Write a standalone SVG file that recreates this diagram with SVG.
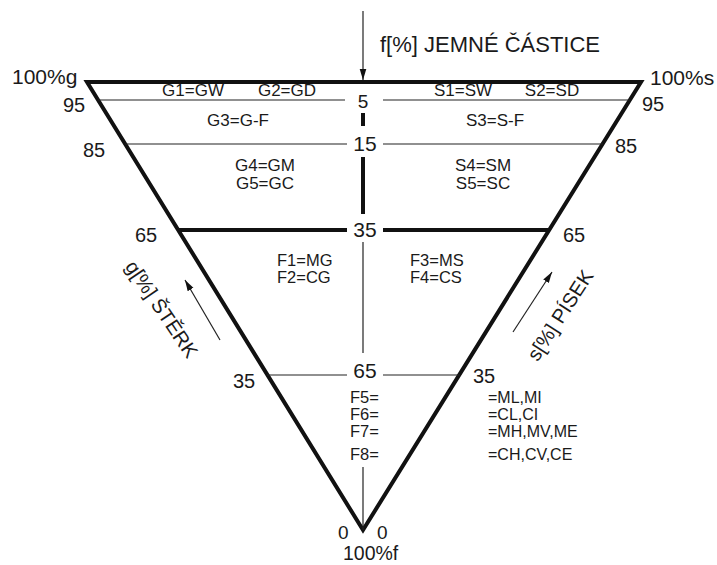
<svg xmlns="http://www.w3.org/2000/svg" width="717" height="565" viewBox="0 0 717 565">
<style>
text{font-family:"Liberation Sans",Arial,sans-serif;fill:#1a1a1a}
.thick{stroke:#111;stroke-width:4;fill:none;stroke-linejoin:miter}
.thin{stroke:#222;stroke-width:1.2;fill:none}
.c{text-anchor:middle}
.n{font-size:20px}
.big{font-size:21px}
.g{font-size:17px}
.f{font-size:16.5px}
.r{font-size:16px}
</style>
<defs>
<marker id="ah2" viewBox="0 0 10 10" refX="10" refY="5" markerWidth="11" markerHeight="11" markerUnits="userSpaceOnUse" orient="auto">
<path d="M0,2 L10,5 L0,8 Z" fill="#111"/>
</marker>
</defs>
<rect width="717" height="565" fill="#fff"/>
<g id="connectors">
<path class="thick" d="M87,82 L641,82 L363,530 Z"/>
<line class="thin" x1="98" y1="100" x2="345" y2="100"/>
<line class="thin" x1="383" y1="100" x2="630" y2="100"/>
<line class="thin" x1="125" y1="144" x2="347" y2="144"/>
<line class="thin" x1="383" y1="144" x2="603" y2="144"/>
<line class="thick" x1="178" y1="230" x2="347" y2="230"/>
<line class="thick" x1="383" y1="230" x2="550" y2="230"/>
<line class="thin" x1="267" y1="375" x2="347" y2="375"/>
<line class="thin" x1="383" y1="375" x2="460" y2="375"/>
<line class="thick" x1="363" y1="113" x2="363" y2="126" stroke-width="3.5"/>
<line class="thick" x1="363" y1="157" x2="363" y2="214"/>
<line class="thin" x1="363" y1="242" x2="363" y2="353"/>
<line class="thin" x1="363" y1="467" x2="363" y2="530"/>
<line class="thin" x1="363" y1="11" x2="363" y2="80" marker-end="url(#ah2)"/>
<line class="thin" x1="220" y1="340" x2="185" y2="280" marker-end="url(#ah2)"/>
<line class="thin" x1="513" y1="332" x2="552" y2="272" marker-end="url(#ah2)"/>
</g>
<g id="axis-labels">
<text x="380" y="52" font-size="22">f[%] JEMNÉ ČÁSTICE</text>
<text x="12" y="84" class="big">100%g</text>
<text x="650" y="85" class="big">100%s</text>
<text x="343" y="560" font-size="19.5">100%f</text>
<text x="338" y="539" font-size="19">0</text>
<text x="377" y="539" font-size="19">0</text>
<text transform="translate(156,313) rotate(56)" class="c n">g[%] ŠTĚRK</text>
<text transform="translate(566,319) rotate(-57)" class="c n">s[%] PÍSEK</text>
</g>
<g id="scale-labels">
<text x="63" y="112" class="n">95</text>
<text x="83" y="157" class="n">85</text>
<text x="135" y="242" class="n">65</text>
<text x="233" y="388" class="n">35</text>
<text x="642" y="111" class="n">95</text>
<text x="615" y="153" class="n">85</text>
<text x="563" y="242" class="n">65</text>
<text x="473" y="383" class="n">35</text>
<text x="363" y="108" class="c" font-size="19">5</text>
<text x="365" y="151" class="c big">15</text>
<text x="365" y="237" class="c big">35</text>
<text x="365" y="378" class="c big">65</text>
</g>
<g id="gravel-classes">
<text x="193" y="96" class="c g">G1=GW</text>
<text x="287" y="96" class="c g">G2=GD</text>
<text x="238" y="126" class="c g">G3=G-F</text>
<text x="265" y="171" class="c g">G4=GM</text>
<text x="265" y="189" class="c g">G5=GC</text>
</g>
<g id="sand-classes">
<text x="463" y="96" class="c g">S1=SW</text>
<text x="552" y="96" class="c g">S2=SD</text>
<text x="495" y="126" class="c g">S3=S-F</text>
<text x="483" y="171" class="c g">S4=SM</text>
<text x="483" y="189" class="c g">S5=SC</text>
</g>
<g id="fine-classes">
<text x="277" y="266" class="f">F1=MG</text>
<text x="277" y="283" class="f">F2=CG</text>
<text x="410" y="266" class="f">F3=MS</text>
<text x="410" y="283" class="f">F4=CS</text>
<text x="350" y="403" class="f">F5=</text>
<text x="350" y="420" class="f">F6=</text>
<text x="350" y="437" class="f">F7=</text>
<text x="350" y="460" class="f">F8=</text>
<text x="488" y="403" class="r">=ML,MI</text>
<text x="488" y="420" class="r">=CL,CI</text>
<text x="488" y="437" class="r">=MH,MV,ME</text>
<text x="488" y="460" class="r">=CH,CV,CE</text>
</g>
</svg>
